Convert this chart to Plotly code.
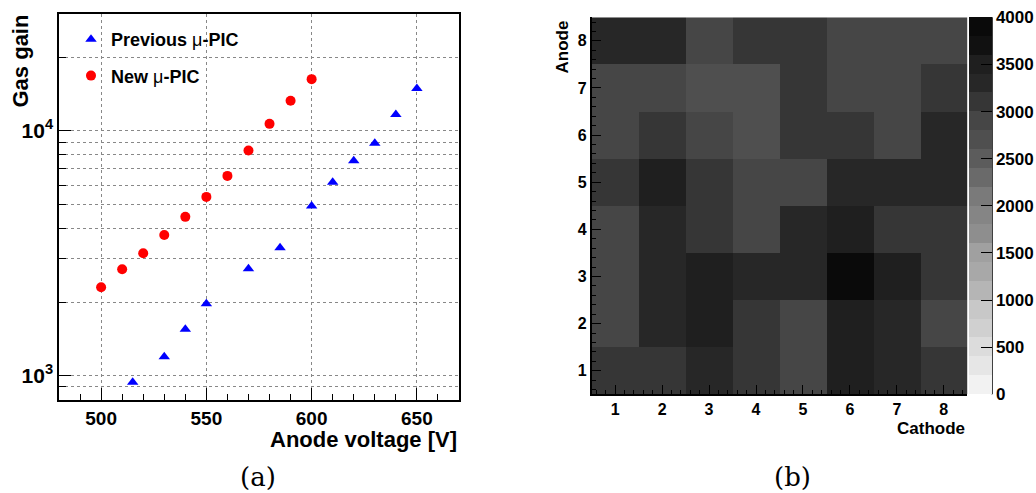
import math
import plotly.graph_objects as go

# ---------------- data ----------------
prev_voltage = [515, 530, 540, 550, 570, 585, 600, 610, 620, 630, 640, 650]
prev_gain = [940, 1196, 1548, 1968, 2737, 3334, 4938, 6170, 7540, 8903, 11660, 14890]

new_voltage = [500, 510, 520, 530, 540, 550, 560, 570, 580, 590, 600]
new_gain = [2297, 2722, 3163, 3758, 4454, 5373, 6548, 8311, 10680, 13267, 16260]

cathode = [1, 2, 3, 4, 5, 6, 7, 8]
anode = [1, 2, 3, 4, 5, 6, 7, 8]
# rows: anode 1 .. 8, columns: cathode 1 .. 8
gain_map = [
    [3100, 3100, 3300, 3100, 2900, 3500, 3300, 3100],
    [2900, 3300, 3500, 3100, 2900, 3500, 3300, 2900],
    [2900, 3300, 3500, 3300, 3300, 3900, 3500, 3100],
    [2900, 3300, 3100, 2900, 3300, 3500, 3100, 3100],
    [3100, 3500, 3100, 2900, 2900, 3300, 3300, 3300],
    [2900, 3100, 2900, 2700, 3100, 3100, 2900, 3300],
    [2900, 2900, 2700, 2700, 3100, 2900, 2900, 3100],
    [3300, 3300, 2900, 3100, 3100, 2900, 2900, 2900],
]
cbar_ticks = [0, 500, 1000, 1500, 2000, 2500, 3000, 3500, 4000]
# grey levels of the 20 palette bands, from 0-200 up to 3800-4000
band_grey = [242, 230, 220, 208, 200, 181, 168, 160, 142, 133,
             122, 106, 92, 79, 70, 54, 39, 31, 17, 10]

W, H = 1036, 493


def px(x):
    return x / W


def py(y):
    return 1 - y / H


# discrete colorscale
n = len(band_grey)
cs = []
for i, g in enumerate(band_grey):
    c = f"rgb({g},{g},{g})"
    cs.append([i / n, c])
    cs.append([(i + 1) / n, c])

bold = dict(family="Liberation Sans, Arial, sans-serif", color="black", weight="bold")

fig = go.Figure()

fig.add_trace(go.Scatter(
    x=prev_voltage, y=prev_gain, mode="markers",
    name="Previous <span style='font-weight:normal'>μ</span>-PIC",
    legendgroup="a",
    marker=dict(symbol="triangle-up", size=10, color="#0000ff"),
    xaxis="x", yaxis="y"))
fig.add_trace(go.Scatter(
    x=new_voltage, y=new_gain, mode="markers",
    name="New <span style='font-weight:normal'>μ</span>-PIC",
    legendgroup="b",
    marker=dict(symbol="circle", size=10, color="#ff0000"),
    xaxis="x", yaxis="y"))

fig.add_trace(go.Heatmap(
    x=cathode, y=anode, z=gain_map, zmin=0, zmax=4000,
    colorscale=cs, showscale=True, xaxis="x2", yaxis="y2",
    colorbar=dict(
        x=px(969), xanchor="left", xpad=0,
        thickness=23, thicknessmode="pixels",
        y=py((17.3 + 394.3) / 2), yanchor="middle", ypad=0,
        len=(394.3 - 17.3) / H, lenmode="fraction",
        tickvals=cbar_ticks, ticks="inside", ticklen=11, tickcolor="black",
        tickfont=dict(size=17, **bold), outlinewidth=0,
    )))

grid = dict(showgrid=True, gridcolor="#888888", griddash="dot", gridwidth=1)

major_y = [1000, 10000]
minor_y = [800, 900, 2000, 3000, 4000, 5000, 6000, 7000, 8000, 9000, 20000, 30000]

fig.update_layout(
    width=W, height=H,
    margin=dict(l=0, r=0, t=0, b=0, autoexpand=False),
    paper_bgcolor="white", plot_bgcolor="white",
    showlegend=True,
    legend=dict(x=px(71), y=py(21), xanchor="left", yanchor="top",
                bgcolor="rgba(0,0,0,0)", font=dict(size=18, **bold),
                traceorder="grouped", tracegroupgap=10, itemwidth=30),
    xaxis=dict(domain=[px(59), px(459)], range=[480, 670], anchor="y",
               tickmode="linear", tick0=500, dtick=50,
               ticks="inside", ticklen=12, tickcolor="black",
               tickfont=dict(size=19, **bold),
               showline=True, mirror=True, linecolor="black", linewidth=1.5,
               zeroline=False,
               minor=dict(tickmode="linear", tick0=480, dtick=10, ticks="inside",
                          ticklen=6, tickcolor="black", showgrid=False),
               **grid),
    yaxis=dict(domain=[py(400), py(14)], type="log", anchor="x",
               range=[math.log10(796), math.log10(30000)],
               tickmode="array", tickvals=major_y,
               ticktext=["10<sup>3</sup>", "10<sup>4</sup>"],
               ticks="inside", ticklen=12, tickcolor="black",
               tickfont=dict(size=21, **bold),
               showline=True, mirror=True, linecolor="black", linewidth=1.5,
               zeroline=False,
               minor=dict(tickmode="array", tickvals=minor_y, ticks="inside",
                          ticklen=7, tickcolor="black", showgrid=True,
                          gridcolor="#888888", griddash="dot"),
               **grid),
    xaxis2=dict(domain=[px(591.7), px(967.3)], range=[0.5, 8.5], anchor="y2",
                tickmode="linear", tick0=1, dtick=1,
                ticks="inside", ticklen=10, tickcolor="black",
                tickfont=dict(size=16, **bold),
                showline=True, linecolor="black", linewidth=1.5,
                showgrid=False, zeroline=False,
                minor=dict(tickmode="linear", tick0=0.6, dtick=0.2,
                           ticks="inside", ticklen=5, tickcolor="black",
                           showgrid=False)),
    yaxis2=dict(domain=[py(394.3), py(17.3)], range=[0.5, 8.5], anchor="x2",
                tickmode="linear", tick0=1, dtick=1,
                ticks="inside", ticklen=10, tickcolor="black",
                tickfont=dict(size=16, **bold),
                showline=True, linecolor="black", linewidth=1.5,
                showgrid=False, zeroline=False,
                minor=dict(tickmode="linear", tick0=0.6, dtick=0.2,
                           ticks="inside", ticklen=5, tickcolor="black",
                           showgrid=False)),
)

# colorbar axis line
fig.add_shape(type="line", xref="paper", yref="paper",
              x0=px(992), x1=px(992), y0=py(394.3), y1=py(17.3),
              line=dict(color="black", width=1.5))

ann = [
    dict(text="Anode voltage [V]", x=px(459), y=py(439), xanchor="right",
         yanchor="middle", font=dict(size=22, **bold)),
    dict(text="Gas gain", x=px(20), y=py(13), xanchor="center", yanchor="top",
         textangle=-90, font=dict(size=22, **bold)),
    dict(text="Cathode", x=px(967), y=py(428), xanchor="right", yanchor="middle",
         font=dict(size=17, **bold)),
    dict(text="Anode", x=px(562), y=py(19), xanchor="center", yanchor="top",
         textangle=-90, font=dict(size=17, **bold)),
    dict(text="(a)", x=px(258), y=py(477), xanchor="center", yanchor="middle",
         font=dict(size=26, family="DejaVu Serif", color="black")),
    dict(text="(b)", x=px(792), y=py(477), xanchor="center", yanchor="middle",
         font=dict(size=26, family="DejaVu Serif", color="black")),
]
for a in ann:
    fig.add_annotation(xref="paper", yref="paper", showarrow=False, **a)

fig.write_html("out.html", config={"displayModeBar": False},
               post_script="document.body.style.margin='0px';document.body.style.overflow='hidden';")
